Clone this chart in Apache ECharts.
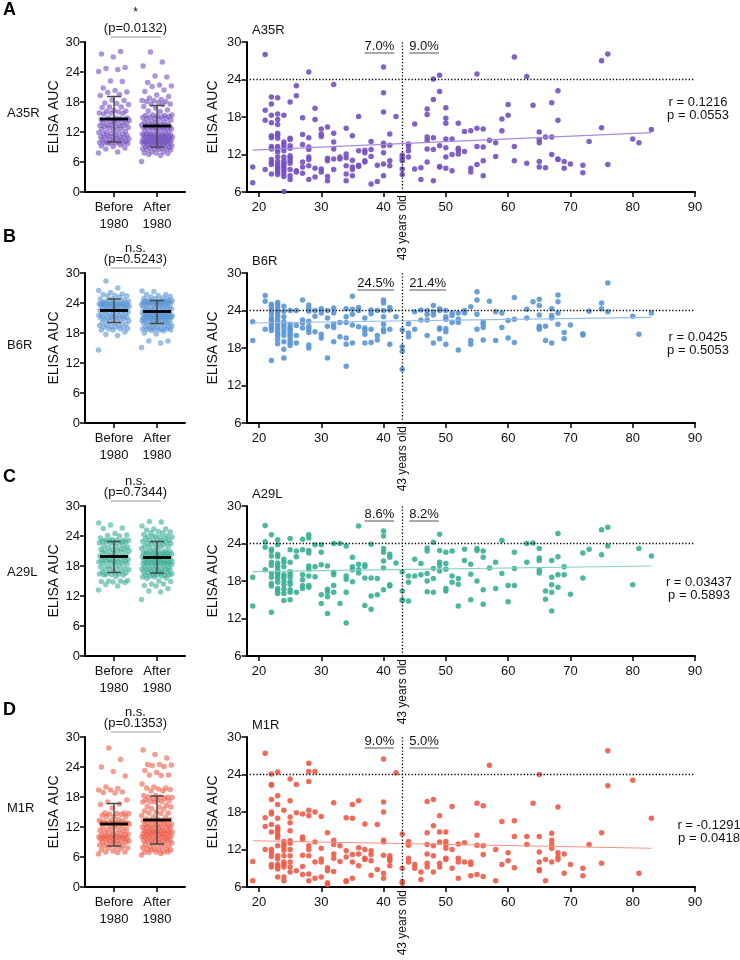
<!DOCTYPE html>
<html><head><meta charset="utf-8">
<script src="https://cdn.jsdelivr.net/npm/echarts@6/dist/echarts.min.js"></script>
<style>html,body{margin:0;padding:0;background:#fff}#c{width:740px;height:960px}</style>
</head><body><div id="c"></div>
<script>
// ---------------- DATA ----------------
const antigens = ['A35R', 'B6R', 'A29L', 'M1R'];
const panelLetters = ['A', 'B', 'C', 'D'];
const groupLabels = ['Before\n1980', 'After\n1980'];
const ageTicks = [20, 30, 40, 50, 60, 70, 80, 90];
const cutoffAge = 43;
const seroCutoff = 24;
const pctLeft = ['7.0%', '24.5%', '8.6%', '9.0%'];
const pctRight = ['9.0%', '21.4%', '8.2%', '5.0%'];
const corrR = ['0.1216', '0.0425', '0.03437', '-0.1291'];
const corrP = ['0.0553', '0.5053', '0.5893', '0.0418'];
const groupP = ['0.0132', '0.5243', '0.7344', '0.1353'];
const groupSig = ['*', 'n.s.', 'n.s.', 'n.s.'];
// mean, SD low, SD high
const statsBefore = [[14.6, 10.0, 19.1], [22.5, 20.1, 24.8], [19.9, 16.7, 22.9], [12.6, 8.2, 16.7]];
const statsAfter  = [[13.2, 9.0, 17.3], [22.3, 19.9, 24.5], [19.7, 16.6, 22.9], [13.4, 8.6, 18.2]];
// regression line end points [age, AUC]
const fitA35R = [[19, 12.7], [83, 15.5]];
const fitB6R  = [[19, 22.0], [83, 22.9]];
const fitA29L = [[19, 19.5], [83, 20.4]];
const fitM1R  = [[19, 13.4], [83, 12.2]];
// points grouped by age: [age, [AUC values]]
const A35R = [
 [19,[10.0,7.5]],[21,[28.0,19.1,17.5,9.6]],
 [22,[21.2,20.1,18.3,17.1,15.0,14.7,13.3,12.9,11.2,10.7,10.4,8.9]],
 [23,[21.1,18.5,17.6,16.8,15.4,15.1,14.6,13.3,12.9,12.4,11.6,10.9,10.4,10.0,9.6,9.2,8.8]],
 [24,[18.3,14.0,13.6,13.1,12.6,11.6,11.0,10.6,10.2,9.9,9.5,9.0,8.5,6.1]],
 [25,[20.4,14.6,14.4,13.4,13.0,11.8,11.4,11.0,10.6,9.6,8.6,8.0]],
 [26,[23.0,21.4,9.4,9.2]],[27,[17.9,15.2,13.6,10.8,10.0,9.0]],
 [28,[25.2,14.7,13.2,12.8,11.6,11.2,10.2,8.0]],[29,[19.4,17.6,9.8,8.4]],
 [30,[16.1,15.3,14.9,9.7,9.2]],[31,[16.4,11.4,11.0,8.5,7.8]],
 [32,[23.2,15.4,14.0,12.9,11.3,9.6]],[33,[11.6,11.3]],
 [34,[16.2,12.1,11.5,10.2,8.9,7.8]],[35,[15.0,11.1,10.0,9.6,8.6]],
 [36,[18.1,12.6,10.3,10.1]],[37,[12.7,12.3,11.0,10.8]],[38,[14.1,12.8,11.7,7.3]],
 [39,[10.3,7.7]],[40,[26.0,21.9,18.8,13.8,13.4,12.3,10.5,8.6]],[41,[15.3,13.5,11.0,10.2]],
 [42,[18.1]],[43,[11.9,11.4,11.0,9.7,8.8]],[44,[13.7,13.3,12.6,11.6]],[45,[16.9,9.7]],
 [46,[9.9,8.0]],[47,[19.3,18.4,14.8,14.3,12.9,10.8]],[48,[24.1,20.8,14.7,12.8,7.8]],
 [49,[24.7,22.1,13.4,10.1,10.0]],[50,[19.5,17.8,17.0,14.5,13.1,11.6,9.8]],
 [51,[14.5,12.0,9.4]],[52,[17.0,13.0,12.7,12.1]],[53,[15.7,12.5]],[54,[15.8,9.8,9.2]],
 [55,[24.9,16.2,13.3,10.4]],[56,[16.1,13.2,11.0,8.6]],[57,[14.3]],[58,[13.9,11.7]],
 [59,[17.7,15.8]],[60,[20.0,18.3]],[61,[27.6,13.3,11.0]],[63,[24.5,10.6]],[64,[19.9]],
 [65,[15.6,14.4,13.9,10.9,10.0]],[66,[14.8,9.9]],[67,[20.3,14.8,12.0]],
 [68,[22.2,17.5,11.3,11.2]],[69,[10.9,9.8]],[70,[10.5]],[72,[10.3,9.1]],[73,[14.1]],
 [75,[27.0,16.3]],[76,[28.1,10.4]],[80,[14.5]],[81,[13.9]],[83,[16.0]]
];
const B6R = [
 [19,[22.2,19.2]],[21,[26.4,25.5,21.0]],
 [22,[25.0,24.6,24.1,23.5,22.8,22.4,22.0,21.6,21.2,20.8,16.0]],
 [23,[25.3,24.9,24.4,23.9,23.4,22.9,22.4,21.9,21.4,20.9,20.4,20.0,19.4,18.7]],
 [24,[24.7,23.9,23.0,22.2,21.7,21.2,20.6,20.0,19.0,17.8,16.4]],
 [25,[24.0,21.8,21.3,21.0,20.6,20.2,19.8,19.3,18.8,18.4]],
 [26,[24.0,21.6,20.0,18.8]],[27,[25.7,22.5,22.0,21.2]],
 [28,[24.9,24.4,23.9,22.3,21.5,21.0,20.5,18.5,18.0]],[29,[24.0,23.1,20.6]],
 [30,[24.3,23.6,20.2,19.6]],[31,[24.0,22.8,21.5,16.4]],[32,[24.4,23.6,21.8,21.3,19.0]],
 [33,[22.1,19.8]],[34,[24.3,23.0,22.1,19.6,18.6,15.1]],[35,[26.3,24.2,23.4,21.7,18.8]],
 [36,[24.5,24.0,21.4]],[37,[22.8,21.2,20.8,20.2,18.8]],[38,[24.1,23.5,21.0,18.9]],
 [39,[24.0,20.0,19.3]],[40,[25.7,25.2,24.0,23.0,21.8,21.0,20.6]],[41,[24.5,24.1,21.0,18.6]],
 [42,[23.0]],[43,[20.9,18.2,17.5,14.6]],[44,[21.9,20.4,19.8]],[45,[23.8,21.0]],
 [46,[24.1,22.5]],[47,[24.0,23.4,22.5,20.0]],[48,[24.8,23.8,23.3,18.8]],
 [49,[24.3,24.0,21.2,21.0,19.5]],[50,[24.0,23.0,22.6,21.1,20.6,18.6]],[51,[23.6,23.2,22.1]],
 [52,[23.6,22.6,22.1,17.7]],[53,[24.0,23.6]],[54,[24.6,19.2,18.6]],[55,[27.0,25.7,23.4,21.0]],
 [56,[22.2,21.8,21.3,19.3]],[57,[25.5]],[58,[23.8,19.2]],[59,[23.6,21.3]],[60,[22.4,19.6]],
 [61,[26.1,22.6,18.9]],[63,[24.2,22.8]],[64,[25.4]],[65,[25.8,24.8,23.3,21.5,21.2,21.0]],
 [66,[21.5,19.2]],[67,[24.3,23.2,22.8,18.8]],[68,[26.5,25.4,23.6,21.8]],[69,[20.5,19.5]],
 [70,[21.7]],[72,[20.3,20.1]],[73,[23.9]],[75,[25.2,24.3]],[76,[28.4,23.8]],[80,[23.1]],
 [81,[20.2]],[83,[23.6]]
];
const A29L = [
 [19,[18.6,14.0]],[21,[26.9,24.3,23.4,19.8]],
 [22,[25.4,23.1,22.8,22.0,21.0,20.5,19.2,18.6,17.6,17.2,13.0]],
 [23,[24.6,23.8,22.3,21.9,20.9,20.5,20.0,19.5,19.2,18.8,18.4,17.8,16.8,16.4,16.0]],
 [24,[21.5,21.0,20.3,19.0,18.6,18.0,17.4,16.7,16.0,14.9]],
 [25,[24.8,23.0,21.0,19.5,19.1,18.6,17.9,17.5,16.6,16.2,15.0]],
 [26,[22.8,21.9,16.2]],[27,[24.7,23.0,19.0,18.2,17.3,16.8]],
 [28,[25.4,24.9,22.9,22.5,20.4,19.9,18.8,17.3,17.0]],[29,[23.8,20.3,18.7]],
 [30,[23.8,22.6,20.6,15.8,14.4]],[31,[20.4,16.7,16.2,15.5,12.8]],
 [32,[24.0,19.4,19.0,17.3,16.2]],[33,[24.0,14.4]],[34,[23.6,18.8,18.3,16.2,11.3]],
 [35,[21.8,20.3,19.8,17.9]],[36,[26.8,20.7,19.8,19.3]],[37,[20.6,20.3,18.5,14.1]],
 [38,[23.9,18.5,15.6,13.5]],[39,[18.4,15.8]],[40,[26.0,25.2,23.2,22.6,21.2,20.1,16.6]],
 [41,[22.3,21.8,17.4,17.2]],[42,[20.9]],[43,[19.5,16.4,15.0,14.9]],[44,[18.8,17.8,14.8]],
 [45,[21.5,18.8]],[46,[20.8,19.0]],[47,[23.3,22.8,19.2,18.0,16.3]],[48,[24.2,20.0,18.4,16.2]],
 [49,[25.5,22.9,21.0,20.5,19.6]],[50,[22.6,20.8,19.9,16.8,16.4]],[51,[22.8,18.8,17.8]],
 [52,[18.4,17.5,14.0]],[53,[23.1,21.3]],[54,[20.7,19.1,15.0]],[55,[23.2,22.9,18.0]],
 [56,[22.8,21.8,16.6,14.3]],[57,[20.1]],[58,[21.0,16.8]],[59,[24.5,19.2]],[60,[17.3,14.7]],
 [61,[22.6,20.0,17.3]],[63,[24.0,21.0]],[64,[24.1]],[65,[23.2,21.7,21.3,19.8,19.3]],
 [66,[16.4,15.1]],[67,[21.3,18.6,17.4,16.2,13.2]],[68,[25.6,21.9,19.0,17.0]],[69,[20.3,19.0]],
 [70,[15.9]],[72,[22.5,18.5]],[73,[23.1]],[75,[26.2,22.2]],[76,[26.6,23.6]],[80,[17.4]],
 [81,[23.2]],[83,[22.0]]
];
const M1R = [
 [19,[10.1,7.0]],[21,[27.4,17.1,15.7,12.0]],
 [22,[24.1,22.4,22.3,20.0,18.0,17.7,16.0,14.8,12.0,11.5,10.9,9.6,9.2]],
 [23,[24.4,20.6,19.2,17.0,15.6,15.2,14.8,14.3,13.9,12.6,11.0,10.5,9.6,9.3,8.9,7.6]],
 [24,[18.3,13.3,12.8,12.4,11.9,11.0,10.0,9.6,9.2,7.6,7.0]],
 [25,[23.3,19.8,17.2,16.3,15.0,13.4,13.0,12.0,11.0,10.0,9.2,8.4]],
 [26,[22.4,17.9,8.6]],[27,[17.7,14.0,13.6,11.1,9.3,8.0]],
 [28,[25.8,24.5,22.9,18.3,17.4,12.6,12.0,11.0,8.1,7.0]],[29,[24.5,18.0,13.2,10.0,7.4]],
 [30,[17.3,12.2,10.5,10.0,7.6]],[31,[14.7,9.1,8.6,6.7,6.4]],
 [32,[19.5,13.5,12.8,11.3,10.6,8.5]],[33,[12.6,10.1]],[34,[17.1,11.8,10.8,7.0,6.9]],
 [35,[19.2,17.0,11.2,10.0,7.4]],[36,[19.8,12.3,11.3,9.4]],[37,[16.1,12.0,10.6,10.4]],
 [38,[11.8,11.2,10.2,7.9]],[39,[16.0,8.8]],[40,[26.5,19.6,18.0,13.5,13.2,11.1,8.2,7.4]],
 [41,[11.0,10.6,10.2,9.4]],[42,[24.3]],[43,[14.5,9.0,6.9,6.6]],[44,[13.3,12.7,10.6,10.0]],
 [45,[9.6,9.0]],[46,[8.4,7.2]],[47,[19.7,14.7,12.8,11.3,9.8,9.2]],[48,[20.0,15.8,12.6,11.0,8.4]],
 [49,[17.4,14.8,13.2,9.8,9.2]],[50,[14.8,13.3,12.8,12.2,10.6,10.4]],[51,[18.9,12.0,9.0]],
 [52,[12.9,10.6,10.0,7.4]],[53,[13.1,10.0]],[54,[10.0,9.6,7.8]],[55,[19.4,14.3,12.7,8.0]],
 [56,[19.0,12.6,11.2,7.7]],[57,[25.5]],[58,[12.0,7.0]],[59,[16.5,9.6]],[60,[11.5,10.2]],
 [61,[16.6,14.1,9.1]],[63,[14.1,12.8]],[64,[19.4]],[65,[24.0,14.1,11.6,10.0,8.8,8.6]],
 [66,[10.4,7.0]],[67,[14.6,13.5,12.8,12.2,10.0]],[68,[18.8,11.5,10.8,10.4]],[69,[11.3,8.2]],
 [70,[9.6]],[72,[9.0,7.8]],[73,[12.8]],[75,[14.7,9.8]],[76,[27.8,22.2]],[80,[23.1]],
 [81,[8.2]],[83,[17.0]]
];

// ---------------- STYLE / LAYOUT ----------------
const pointData = [A35R, B6R, A29L, M1R];
const fits = [fitA35R, fitB6R, fitA29L, fitM1R];
const colors = ['#7450bf', '#5a95d4', '#3aae96', '#ec5b47'];
const fitColors = ['#a88ad8', '#94bde8', '#86d2c2', '#f39483'];
const FONT = "'Liberation Sans', Arial, Helvetica, sans-serif";
const rowTop = [42, 273, 506, 737];
const rowH = 150;
const stripLeft = 85, stripW = 100, scatLeft = 246.5, scatW = 448.5;
const letterY = [10, 237, 477, 710];
const rowLabelY = [113, 345, 572, 808];
const underlineOff = [11, 17, 15, 11];
const corrX = [698, 698, 699, 709];
const corrOff = [60, 64, 76, 88];

const chart = echarts.init(document.getElementById('c'), null, {renderer: 'canvas', width: 740, height: 960});

function flatten(groups) {
  const out = [];
  groups.forEach(([age, vals]) => vals.forEach(v => out.push([age, v])));
  return out;
}
// beeswarm-like spread of points in a column (layout only)
function strip(values, center) {
  const sorted = values.slice().sort((a, b) => a - b);
  return sorted.map((v, i) => [center + (((i * 0.618034) % 1) - 0.5) * 0.72, v]);
}

const grids = [], xAxes = [], yAxes = [], series = [];
const axisLineStyle = {color: '#000', width: 2};
const tickStyle = {color: '#000', width: 1.5};
const labelStyle = {color: '#111', fontSize: 13, fontFamily: FONT};
const nameStyle = {fontSize: 14, color: '#111', fontFamily: FONT};

for (let p = 0; p < 4; p++) {
  const pts = flatten(pointData[p]);
  grids.push({left: stripLeft, top: rowTop[p], width: stripW, height: rowH});
  grids.push({left: scatLeft, top: rowTop[p], width: scatW, height: rowH});
  const gs = 2 * p, gc = 2 * p + 1;
  xAxes.push({
    type: 'value', gridIndex: gs, min: -0.674, max: 1.651,
    axisLine: {show: true, onZero: false, lineStyle: axisLineStyle},
    axisTick: {show: true, customValues: [0, 1], length: 5, lineStyle: tickStyle},
    axisLabel: Object.assign({customValues: [0, 1], margin: 7, lineHeight: 17,
      formatter: v => groupLabels[Math.round(v)]}, labelStyle),
    splitLine: {show: false}
  });
  yAxes.push({
    type: 'value', gridIndex: gs, min: 0, max: 30, interval: 6,
    axisLine: {show: true, onZero: false, lineStyle: axisLineStyle},
    axisTick: {show: true, length: 5, lineStyle: tickStyle},
    axisLabel: Object.assign({margin: 5}, labelStyle),
    splitLine: {show: false},
    name: 'ELISA AUC', nameLocation: 'middle', nameGap: 24, nameMoveOverlap: false,
    nameTextStyle: nameStyle
  });
  xAxes.push({
    type: 'value', gridIndex: gc, min: 18, max: 90,
    axisLine: {show: true, onZero: false, lineStyle: axisLineStyle},
    axisTick: {show: true, customValues: ageTicks, length: 5, lineStyle: tickStyle},
    axisLabel: Object.assign({customValues: ageTicks, margin: 9}, labelStyle),
    splitLine: {show: false}
  });
  yAxes.push({
    type: 'value', gridIndex: gc, min: 6, max: 30, interval: 6,
    axisLine: {show: true, onZero: false, lineStyle: axisLineStyle},
    axisTick: {show: true, length: 5, lineStyle: tickStyle},
    axisLabel: Object.assign({margin: 5}, labelStyle),
    splitLine: {show: false},
    name: 'ELISA AUC', nameLocation: 'middle', nameGap: 26, nameMoveOverlap: false,
    nameTextStyle: nameStyle
  });
  const before = pts.filter(d => d[0] >= cutoffAge).map(d => d[1]);
  const after = pts.filter(d => d[0] < cutoffAge).map(d => d[1]);
  series.push({
    type: 'scatter', xAxisIndex: gs, yAxisIndex: gs, symbolSize: 5.5, silent: true,
    itemStyle: {color: colors[p], opacity: 0.6},
    data: strip(before, 0).concat(strip(after, 1))
  });
  series.push({
    type: 'custom', xAxisIndex: gs, yAxisIndex: gs, silent: true, z: 5,
    data: [[0].concat(statsBefore[p]), [1].concat(statsAfter[p])],
    renderItem: (params, api) => {
      const x = api.value(0);
      const c = api.coord([x, api.value(1)]);
      const lo = api.coord([x, api.value(2)]);
      const hi = api.coord([x, api.value(3)]);
      const st = {stroke: '#4a4a4a', lineWidth: 1.5};
      return {type: 'group', children: [
        {type: 'line', shape: {x1: c[0], y1: lo[1], x2: c[0], y2: hi[1]}, style: st},
        {type: 'line', shape: {x1: c[0] - 7, y1: lo[1], x2: c[0] + 7, y2: lo[1]}, style: st},
        {type: 'line', shape: {x1: c[0] - 7, y1: hi[1], x2: c[0] + 7, y2: hi[1]}, style: st},
        {type: 'line', shape: {x1: c[0] - 14, y1: c[1], x2: c[0] + 14, y2: c[1]}, style: {stroke: '#000', lineWidth: 2.8}}
      ]};
    }
  });
  series.push({
    type: 'scatter', xAxisIndex: gc, yAxisIndex: gc, symbolSize: 5.5, silent: true,
    itemStyle: {color: colors[p], opacity: 0.9},
    data: pts,
    markLine: {
      silent: true, symbol: 'none', animation: false, label: {show: false},
      lineStyle: {color: '#000', type: [1.3, 2], width: 1.3},
      data: [{yAxis: seroCutoff}, [{coord: [cutoffAge, 6]}, {coord: [cutoffAge, 30]}]]
    }
  });
  series.push({
    type: 'line', xAxisIndex: gc, yAxisIndex: gc, symbol: 'none', silent: true,
    lineStyle: {color: fitColors[p], width: 1.2}, data: fits[p]
  });
}

chart.setOption({animation: false, backgroundColor: '#fff', grid: grids, xAxis: xAxes, yAxis: yAxes, series: series});

// ---------------- ANNOTATIONS ----------------
const mctx = document.createElement('canvas').getContext('2d');
mctx.font = '13px ' + FONT;
const tw = t => mctx.measureText(t).width;
const txt = (x, y, text, extra) => ({type: 'text', x: x, y: y, silent: true,
  style: Object.assign({text: text, fill: '#111', font: '13px ' + FONT, align: 'center', verticalAlign: 'middle'}, extra || {})});
const graphics = [];
for (let p = 0; p < 4; p++) {
  const gs = 2 * p, gc = 2 * p + 1, top = rowTop[p];
  graphics.push(txt(3, letterY[p], panelLetters[p], {align: 'left', font: 'bold 18px ' + FONT, fill: '#000'}));
  graphics.push(txt(7, rowLabelY[p], antigens[p], {align: 'left', font: '13px ' + FONT}));
  graphics.push(txt(252, top - 12, antigens[p], {align: 'left', font: '13px ' + FONT}));
  // group comparison
  const b = chart.convertToPixel({gridIndex: gs}, [0, 30]);
  const a = chart.convertToPixel({gridIndex: gs}, [1, 30]);
  const mid = (b[0] + a[0]) / 2;
  graphics.push(txt(mid, groupSig[p] === '*' ? top - 29 : top - 25, groupSig[p], {font: (groupSig[p] === '*' ? '12px ' : '13px ') + FONT}));
  graphics.push(txt(mid, top - 13.5, '(p=' + groupP[p] + ')'));
  graphics.push({type: 'line', silent: true, shape: {x1: b[0] - 3, y1: top - 5, x2: a[0] + 4, y2: top - 5}, style: {stroke: '#999', lineWidth: 1}});
  // 43 years old label
  const c0 = chart.convertToPixel({gridIndex: gc}, [cutoffAge, 6]);
  graphics.push({type: 'text', x: c0[0], y: c0[1] + 3, rotation: Math.PI / 2, silent: true,
    style: {text: cutoffAge + ' years old', fill: '#111', font: '12px ' + FONT, align: 'right', verticalAlign: 'middle'}});
  // percentages above cutoff
  const uy = top + underlineOff[p];
  const wl = tw(pctLeft[p]), wr = tw(pctRight[p]);
  const xl = c0[0] - 8, xr = c0[0] + 7;
  graphics.push(txt(xl - wl / 2, uy - 6.5, pctLeft[p]));
  graphics.push({type: 'line', silent: true, shape: {x1: xl - wl, y1: uy, x2: xl, y2: uy}, style: {stroke: '#555', lineWidth: 1}});
  graphics.push(txt(xr + wr / 2, uy - 6.5, pctRight[p]));
  graphics.push({type: 'line', silent: true, shape: {x1: xr, y1: uy, x2: xr + wr, y2: uy}, style: {stroke: '#555', lineWidth: 1}});
  // correlation
  graphics.push(txt(corrX[p], top + corrOff[p], 'r = ' + corrR[p]));
  graphics.push(txt(corrX[p], top + corrOff[p] + 13, 'p = ' + corrP[p]));
}
chart.setOption({graphic: graphics});
</script></body></html>
